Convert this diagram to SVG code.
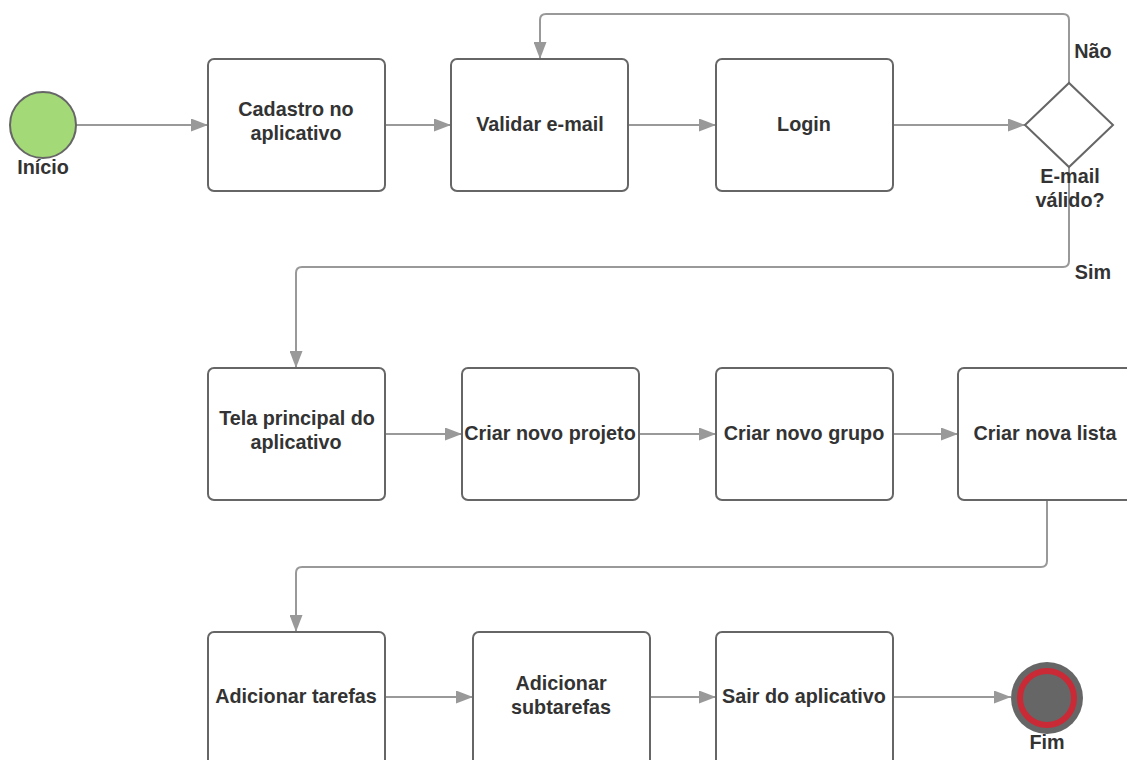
<svg xmlns="http://www.w3.org/2000/svg" width="1127" height="760" viewBox="0 0 1127 760">
  <style>
    .box { fill: #ffffff; stroke: #666666; stroke-width: 2; }
    .lbl { font-family: "Liberation Sans", Arial, sans-serif; font-weight: bold; font-size: 19.8px; fill: #333333; text-anchor: middle; }
    .edge { fill: none; stroke: #999999; stroke-width: 2; marker-end: url(#arrow); }
  </style>
  <defs>
    <marker id="arrow" viewBox="0 0 17 13" refX="17" refY="6.5" markerWidth="17" markerHeight="13" markerUnits="userSpaceOnUse" orient="auto">
      <path d="M0,0 L17,6.5 L0,13 Z" fill="#999999"/>
    </marker>
  </defs>
  <rect width="1127" height="760" fill="#ffffff"/>

  <!-- connectors -->
  <g id="connectors">
    <path class="edge" d="M76,125 L208,125"/>
    <path class="edge" d="M385,125 L451,125"/>
    <path class="edge" d="M628,125 L716,125"/>
    <path class="edge" d="M893,125 L1025,125"/>
    <path class="edge" d="M1069,83 L1069,20 Q1069,14 1063,14 L546,14 Q540,14 540,20 L540,59"/>
    <path class="edge" d="M1069,167 L1069,261 Q1069,267 1063,267 L302,267 Q296,267 296,273 L296,368"/>
    <path class="edge" d="M385,434 L462,434"/>
    <path class="edge" d="M639,434 L716,434"/>
    <path class="edge" d="M893,434 L958,434"/>
    <path class="edge" d="M1047,500 L1047,561 Q1047,567 1041,567 L302,567 Q296,567 296,573 L296,632"/>
    <path class="edge" d="M385,697 L473,697"/>
    <path class="edge" d="M650,697 L716,697"/>
    <path class="edge" d="M893,697 L1011,697"/>
  </g>

  <!-- start event -->
  <g id="inicio">
    <circle cx="43" cy="125" r="33" fill="#a3d977" stroke="#666666" stroke-width="2"/>
    <text class="lbl" x="43" y="174">Início</text>
  </g>

  <g id="cadastro">
    <rect class="box" x="208" y="59" width="177" height="132" rx="6"/>
    <text class="lbl" x="296" y="116">Cadastro no</text>
    <text class="lbl" x="296" y="140">aplicativo</text>
  </g>

  <g id="validar">
    <rect class="box" x="451" y="59" width="177" height="132" rx="6"/>
    <text class="lbl" x="540" y="131">Validar e-mail</text>
  </g>

  <g id="login">
    <rect class="box" x="716" y="59" width="177" height="132" rx="6"/>
    <text class="lbl" x="804" y="131">Login</text>
  </g>

  <!-- decision -->
  <g id="decisao">
    <path d="M1025,125 L1069,83 L1113,125 L1069,167 Z" fill="#ffffff" stroke="#666666" stroke-width="2"/>
    <text class="lbl" x="1070" y="183">E-mail</text>
    <text class="lbl" x="1070" y="207">válido?</text>
    <text class="lbl" x="1093" y="58">Não</text>
    <text class="lbl" x="1093" y="279">Sim</text>
  </g>

  <g id="tela-principal">
    <rect class="box" x="208" y="368" width="177" height="132" rx="6"/>
    <text class="lbl" x="297" y="425">Tela principal do</text>
    <text class="lbl" x="296" y="449">aplicativo</text>
  </g>

  <g id="novo-projeto">
    <rect class="box" x="462" y="368" width="177" height="132" rx="6"/>
    <text class="lbl" x="550" y="440">Criar novo projeto</text>
  </g>

  <g id="novo-grupo">
    <rect class="box" x="716" y="368" width="177" height="132" rx="6"/>
    <text class="lbl" x="804" y="440">Criar novo grupo</text>
  </g>

  <g id="nova-lista">
    <rect class="box" x="958" y="368" width="177" height="132" rx="6"/>
    <text class="lbl" x="1045" y="440">Criar nova lista</text>
  </g>

  <g id="tarefas">
    <rect class="box" x="208" y="632" width="177" height="140" rx="6"/>
    <text class="lbl" x="296" y="703">Adicionar tarefas</text>
  </g>

  <g id="subtarefas">
    <rect class="box" x="473" y="632" width="177" height="140" rx="6"/>
    <text class="lbl" x="561" y="690">Adicionar</text>
    <text class="lbl" x="561" y="714">subtarefas</text>
  </g>

  <g id="sair">
    <rect class="box" x="716" y="632" width="177" height="140" rx="6"/>
    <text class="lbl" x="804" y="703">Sair do aplicativo</text>
  </g>

  <!-- end event -->
  <g id="fim">
    <circle cx="1047" cy="698" r="36" fill="#666666"/>
    <circle cx="1047" cy="698" r="27" fill="#666666" stroke="#c92a36" stroke-width="6"/>
    <text class="lbl" x="1047" y="749">Fim</text>
  </g>
</svg>
